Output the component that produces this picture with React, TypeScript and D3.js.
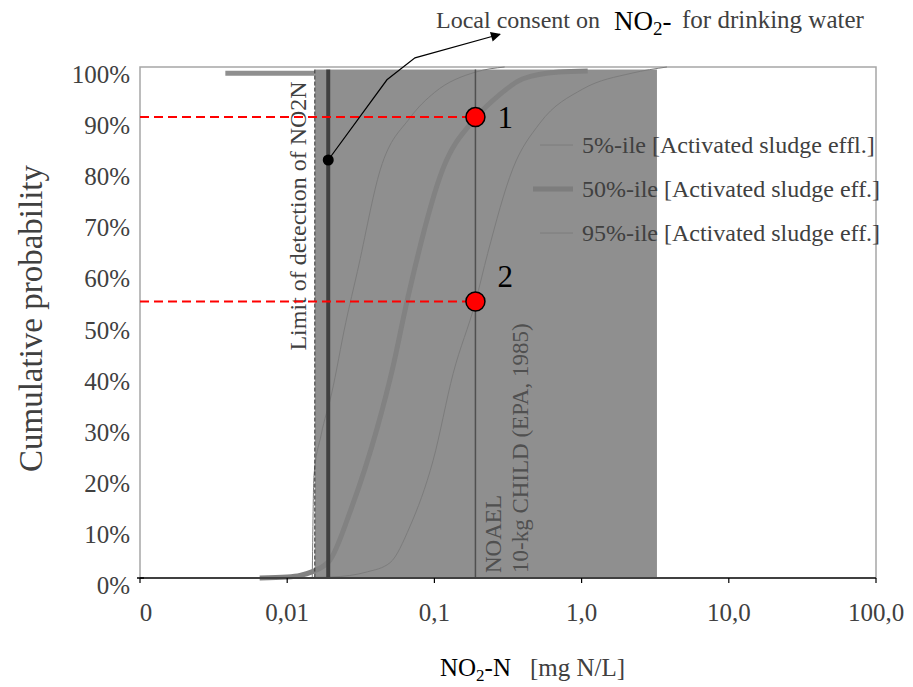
import React from "react";
import * as d3 from "d3";

// axis ticks
const xTicks = [0.001, 0.01, 0.1, 1, 10, 100];
const xTickLabels = ["0", "0,01", "0,1", "1,0", "10,0", "100,0"];
const yTicks = [0, 0.1, 0.2, 0.3, 0.4, 0.5, 0.6, 0.7, 0.8, 0.9, 1];
const yTickLabels = ["0%", "10%", "20%", "30%", "40%", "50%", "60%", "70%", "80%", "90%", "100%"];

// cumulative curves, NO2-N mg N/L vs probability
const p05Conc = [0.0148, 0.0152, 0.017, 0.02, 0.025, 0.03, 0.043, 0.068, 0.1, 0.19, 0.3];
const p05Prob = [0, 0.2, 0.28, 0.36, 0.5, 0.6, 0.8, 0.9, 0.95, 0.99, 1.0];
const p50Conc = [0.0065, 0.01, 0.0122, 0.0147, 0.0195, 0.027, 0.041, 0.052, 0.065, 0.114, 0.19, 0.27, 0.4, 0.7, 1.1];
const p50Prob = [0, 0.002, 0.005, 0.012, 0.035, 0.133, 0.295, 0.41, 0.54, 0.8, 0.9, 0.943, 0.977, 0.99, 0.992];
const p95Conc = [0.0038, 0.01, 0.02, 0.035, 0.05, 0.068, 0.098, 0.134, 0.19, 0.23, 0.34, 0.52, 1.02, 2.2, 3.8];
const p95Prob = [0, 0.0005, 0.002, 0.012, 0.03, 0.1, 0.23, 0.4, 0.54, 0.635, 0.8, 0.89, 0.957, 0.988, 1.0];

// reference values
const limitOfDetection = 0.019;
const consentBand = [0.0154, 3.25];
const noael = 0.19;
const topBarConc = [0.0038, 0.0154];
const topBarProb = 0.988;

// marked points
const markerConc = [0.19, 0.19];
const markerProb = [0.902, 0.541];
const markerLabels = ["1", "2"];

// annotation arrow
const arrowConc = [0.019, 0.0476, 0.0738, 0.279];
const arrowProb = [0.818, 0.975, 1.018, 1.064];

const legendNames = [
  "5%-ile [Activated sludge effl.]",
  "50%-ile [Activated sludge eff.]",
  "95%-ile [Activated sludge eff.]",
];

const W = 913;
const H = 687;
const margin = { top: 67, right: 37, bottom: 109, left: 140 };
const serif = "'Liberation Serif', 'Times New Roman', serif";
const textGrey = "#404040";
const boxGrey = "#8f8f8f";

export default function App() {
  const x = d3.scaleLog().domain([0.001, 100]).range([margin.left, W - margin.right]);
  const y = d3.scaleLinear().domain([0, 1]).range([H - margin.bottom, margin.top]);

  const line = d3
    .line<[number, number]>()
    .x((d) => x(d[0]))
    .y((d) => y(d[1]))
    .curve(d3.curveMonotoneX);

  const zip = (a: number[], b: number[]) => a.map((v, i) => [v, b[i]] as [number, number]);
  const series = [
    { pts: zip(p05Conc, p05Prob), w: 1, c: "#7c7c7c" },
    { pts: zip(p50Conc, p50Prob), w: 5, c: "#828282" },
    { pts: zip(p95Conc, p95Prob), w: 1, c: "#7c7c7c" },
  ];

  const y0 = y(0);
  const yTop = y(0.995);

  const arrowPts = arrowConc.map((c, i) => `${x(c)},${y(arrowProb[i])}`).join(" ");

  return (
    <svg
      width={W}
      height={H}
      style={{ position: "absolute", left: 0, top: 0, background: "#fff" }}
      fontFamily={serif}
    >
      <defs>
        <marker id="arrow" viewBox="0 0 10 10" refX="9" refY="5" markerWidth="12" markerHeight="10" orient="auto" markerUnits="userSpaceOnUse">
          <path d="M0,0 L10,5 L0,10 z" fill="#000" />
        </marker>
      </defs>

      {/* frame */}
      <rect x={x(0.001)} y={y(1)} width={x(100) - x(0.001)} height={y0 - y(1)} fill="none" stroke="#a6a6a6" strokeWidth={1.5} />

      {/* consent band */}
      <rect x={x(consentBand[0])} y={yTop} width={x(consentBand[1]) - x(consentBand[0])} height={y0 - yTop} fill={boxGrey} />
      <line x1={x(topBarConc[0])} x2={x(topBarConc[1])} y1={y(topBarProb)} y2={y(topBarProb)} stroke={boxGrey} strokeWidth={5} />

      {/* curves */}
      {series.map((s, i) => (
        <path key={i} d={line(s.pts) || ""} fill="none" stroke={s.c} strokeWidth={s.w} />
      ))}

      {/* left edge of band, dashed */}
      <line x1={x(consentBand[0])} x2={x(consentBand[0])} y1={yTop} y2={y0} stroke="#333" strokeWidth={1} strokeDasharray="4,2" />
      {/* limit of detection */}
      <line x1={x(limitOfDetection)} x2={x(limitOfDetection)} y1={yTop} y2={y0} stroke="#404040" strokeWidth={4} />
      {/* NOAEL */}
      <line x1={x(noael)} x2={x(noael)} y1={yTop} y2={y0} stroke="#505050" strokeWidth={1.5} />

      <text transform={`translate(${x(consentBand[0]) - 9},${y(0.445)}) rotate(-90)`} fontSize={24} fill={textGrey}>
        Limit of detection of NO2N
      </text>
      <text transform={`translate(${x(noael) + 26},${y0 - 5}) rotate(-90)`} fontSize={23} fill="#505050">
        NOAEL
      </text>
      <text transform={`translate(${x(noael) + 53},${y0 - 5}) rotate(-90)`} fontSize={23} fill="#505050">
        10-kg CHILD (EPA, 1985)
      </text>

      {/* red guides and points */}
      {markerConc.map((c, i) => (
        <g key={i}>
          <line x1={x(0.001)} x2={x(c) - 9} y1={y(markerProb[i])} y2={y(markerProb[i])} stroke="#ff0000" strokeWidth={2} strokeDasharray="9,5" />
          <circle cx={x(c)} cy={y(markerProb[i])} r={9.5} fill="#ff0000" stroke="#000" strokeWidth={1.5} />
          <text x={x(c) + 22} y={y(markerProb[i]) + (i === 0 ? 11 : -15)} fontSize={31} fill="#000">
            {markerLabels[i]}
          </text>
        </g>
      ))}

      {/* annotation */}
      <polyline points={arrowPts} fill="none" stroke="#000" strokeWidth={1.2} markerEnd="url(#arrow)" />
      <circle cx={x(arrowConc[0])} cy={y(arrowProb[0])} r={5.5} fill="#000" />
      <text x={436} y={28} fontSize={24} fill={textGrey}>
        Local consent on
      </text>
      <text x={614} y={30} fontSize={27} fill="#000">
        NO<tspan fontSize={19} dy={5}>2</tspan><tspan dy={-5}>-</tspan>
      </text>
      <text x={682} y={28} fontSize={25} fill={textGrey}>
        for drinking water
      </text>

      {/* legend */}
      {legendNames.map((n, i) => (
        <g key={n} transform={`translate(0,${145 + i * 44})`}>
          <line x1={i === 1 ? 533 : 540} x2={573} y1={0} y2={0} stroke={i === 1 ? "#7d7d7d" : "#7c7c7c"} strokeWidth={i === 1 ? 5 : 1} />
          <text x={582} y={8} fontSize={24} fill={textGrey}>
            {n}
          </text>
        </g>
      ))}

      {/* axes */}
      <line x1={x(0.001)} x2={x(100)} y1={y0} y2={y0} stroke="#404040" strokeWidth={2} />
      <line x1={x(0.001) - 3} x2={x(0.001) + 4} y1={y0} y2={y0} stroke="#000" strokeWidth={1.5} />
      {xTicks.map((t, i) => (
        <g key={t}>
          <line x1={x(t)} x2={x(t)} y1={y0} y2={y0 + 5} stroke="#000" strokeWidth={1.2} />
          <text x={x(t) + (i === 0 ? 6 : 0)} y={y0 + 43} fontSize={25} textAnchor="middle" fill={textGrey}>
            {xTickLabels[i]}
          </text>
        </g>
      ))}
      {yTicks.map((t, i) => (
        <text key={t} x={130} y={y(t) + 16} fontSize={25} textAnchor="end" fill={textGrey}>
          {yTickLabels[i]}
        </text>
      ))}

      <text transform={`translate(42,${(y0 + y(1)) / 2 - 4}) rotate(-90)`} fontSize={33} textAnchor="middle" fill={textGrey}>
        Cumulative probability
      </text>

      <text x={440} y={676} fontSize={25} fill="#000">
        NO<tspan fontSize={17} dy={5}>2</tspan><tspan dy={-5}>-N</tspan>
      </text>
      <text x={530} y={676} fontSize={25} fill={textGrey}>
        [mg N/L]
      </text>
    </svg>
  );
}
